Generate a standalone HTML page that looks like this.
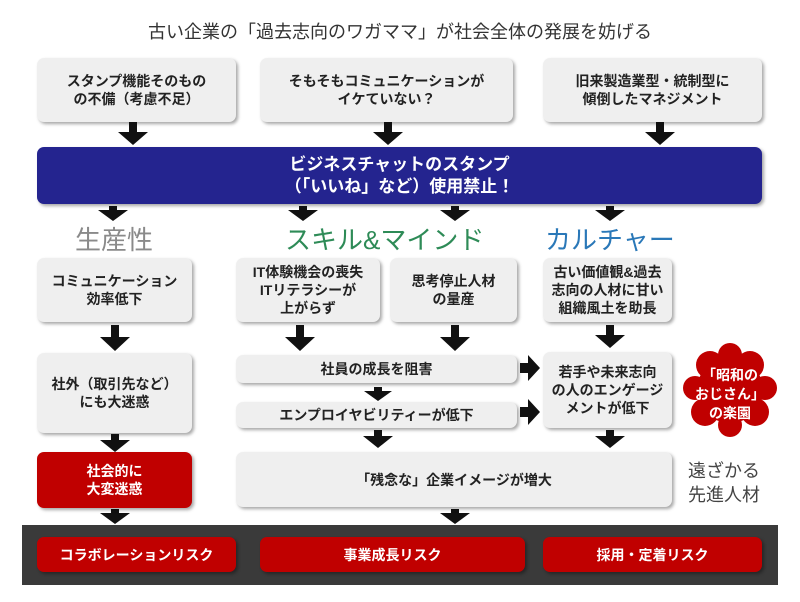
<!DOCTYPE html>
<html><head><meta charset="utf-8"><style>
body{margin:0;width:800px;height:602px;background:#fff;position:relative;overflow:hidden;font-family:"Liberation Sans","Noto Sans CJK JP",sans-serif;}
.b{position:absolute;background:#efefef;border-radius:7px;box-shadow:2px 2px 3px rgba(0,0,0,.35);display:flex;align-items:center;justify-content:center;text-align:center;font-weight:bold;font-size:14px;line-height:18px;color:#222;}
.r{background:#c00000;color:#fff;}
.t{position:absolute;white-space:nowrap;}
svg{position:absolute;left:0;top:0;}
</style></head><body>
<div class="t" style="left:0;width:800px;text-align:center;top:18px;font-size:18px;color:#333;">古い企業の「過去志向のワガママ」が社会全体の発展を妨げる</div>
<div class="b" style="left:37px;top:58px;width:199px;height:64px;">スタンプ機能そのもの<br>の不備（考慮不足）</div>
<div class="b" style="left:260px;top:58px;width:253px;height:64px;">そもそもコミュニケーションが<br>イケていない？</div>
<div class="b" style="left:543px;top:58px;width:219px;height:64px;">旧来製造業型・統制型に<br>傾倒したマネジメント</div>
<div class="b" style="left:37px;top:147px;width:725px;height:57px;background:#24248f;color:#fff;font-size:17px;line-height:22px;">ビジネスチャットのスタンプ<br>（「いいね」など）使用禁止！</div>
<div class="t" style="left:75px;top:220px;font-size:26px;color:#8a8a8a;">生産性</div>
<div class="t" style="left:285px;top:220px;font-size:26px;color:#2e8b57;">スキル&amp;マインド</div>
<div class="t" style="left:545px;top:220px;font-size:26px;color:#2a78b8;">カルチャー</div>
<div class="b" style="left:37px;top:258px;width:155px;height:64px;">コミュニケーション<br>効率低下</div>
<div class="b" style="left:236px;top:258px;width:144px;height:64px;">IT体験機会の喪失<br>ITリテラシーが<br>上がらず</div>
<div class="b" style="left:390px;top:258px;width:127px;height:64px;">思考停止人材<br>の量産</div>
<div class="b" style="left:543px;top:258px;width:129px;height:64px;">古い価値観&amp;過去<br>志向の人材に甘い<br>組織風土を助長</div>
<div class="b" style="left:37px;top:353px;width:155px;height:80px;">社外（取引先など）<br>にも大迷惑</div>
<div class="b" style="left:236px;top:355px;width:281px;height:28px;">社員の成長を阻害</div>
<div class="b" style="left:236px;top:402px;width:281px;height:26px;">エンプロイヤビリティーが低下</div>
<div class="b" style="left:543px;top:352px;width:129px;height:76px;">若手や未来志向<br>の人のエンゲージ<br>メントが低下</div>
<svg width="800" height="602">
<g fill="#c00000">
<circle cx="730" cy="390" r="33"/><circle cx="710" cy="365" r="14"/><circle cx="750" cy="365" r="14"/><circle cx="705" cy="412" r="14"/><circle cx="755" cy="412" r="14"/><circle cx="730" cy="355" r="12"/><circle cx="730" cy="425" r="12"/><circle cx="695" cy="388" r="12"/><circle cx="765" cy="388" r="12"/>
</g>
<g fill="#111">
<path d="M129 122h8v10h11l-15 13l-15-13h11z"/>
<path d="M384 122h8v10h11l-15 13l-15-13h11z"/>
<path d="M656 122h8v10h11l-15 13l-15-13h11z"/>
<path d="M109 206h8v4h11l-15 11l-15-11h11z"/>
<path d="M299 206h8v4h11l-15 11l-15-11h11z"/>
<path d="M451 206h8v4h11l-15 11l-15-11h11z"/>
<path d="M606 206h8v4h11l-15 11l-15-11h11z"/>
<path d="M111 325h8v12h11l-15 14l-15-14h11z"/>
<path d="M296 325h8v12h11l-15 14l-15-14h11z"/>
<path d="M451 325h8v12h11l-15 14l-15-14h11z"/>
<path d="M606 325h8v10h11l-15 13l-15-13h11z"/>
<path d="M374 387h8v4h10l-14 10l-14-10h10z"/>
<path d="M111 434h8v6h11l-15 12l-15-12h11z"/>
<path d="M374 430h8v6h11l-15 12l-15-12h11z"/>
<path d="M606 430h8v6h11l-15 12l-15-12h11z"/>
<path d="M111 509h8v4h11l-15 11l-15-11h11z"/>
<path d="M451 509h8v4h11l-15 11l-15-11h11z"/>
<path d="M520 363h8v-8l12 13l-12 13v-8h-8z"/>
<path d="M520 407h8v-8l12 13l-12 13v-8h-8z"/>
</g>
</svg>
<div class="t" style="left:690px;top:366px;width:80px;text-align:center;color:#fff;font-weight:bold;font-size:14px;line-height:19px;">「昭和の<br>おじさん」<br>の楽園</div>
<div class="b r" style="left:37px;top:452px;width:155px;height:56px;">社会的に<br>大変迷惑</div>
<div class="b" style="left:236px;top:452px;width:436px;height:55px;">「残念な」企業イメージが増大</div>
<div class="t" style="left:688px;top:459px;font-size:18px;line-height:24px;color:#444;">遠ざかる<br>先進人材</div>
<div style="position:absolute;left:22px;top:525px;width:756px;height:60px;background:#3a3a3a;"></div>
<div class="b r" style="left:37px;top:537px;width:199px;height:35px;">コラボレーションリスク</div>
<div class="b r" style="left:260px;top:537px;width:265px;height:35px;">事業成長リスク</div>
<div class="b r" style="left:543px;top:537px;width:219px;height:35px;">採用・定着リスク</div>
</body></html>
